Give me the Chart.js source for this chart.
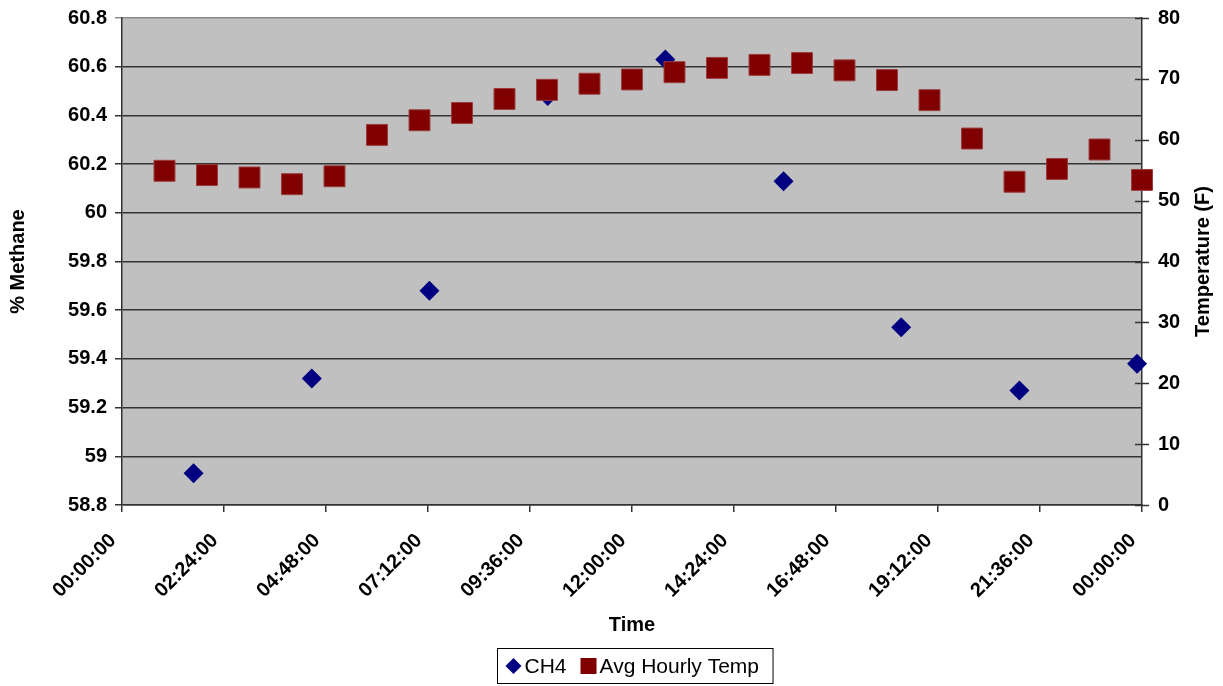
<!DOCTYPE html>
<html>
<head>
<meta charset="utf-8">
<script src="https://cdn.jsdelivr.net/npm/chart.js@4/dist/chart.umd.min.js"></script>
<style>
  html, body { margin: 0; padding: 0; background: #fff; }
  canvas { display: block; }
</style>
</head>
<body>
<canvas id="chart" width="1223" height="686"></canvas>
<script>
// methane readings (time of day, % CH4)
const ch4Times = ['01:41', '04:28', '07:14', '10:01', '12:47', '15:34', '18:20', '21:07', '23:53'];
const ch4Values = [58.93, 59.32, 59.68, 60.48, 60.63, 60.13, 59.53, 59.27, 59.38];

// hourly average temperature (F)
const tempTimes = ['01:00', '02:00', '03:00', '04:00', '05:00', '06:00', '07:00', '08:00',
  '09:00', '10:00', '11:00', '12:00', '13:00', '14:00', '15:00', '16:00',
  '17:00', '18:00', '19:00', '20:00', '21:00', '22:00', '23:00', '24:00'];
const tempValues = [54.9, 54.2, 53.8, 52.7, 54.0, 60.8, 63.2, 64.4, 66.7, 68.2, 69.2, 69.9,
  71.1, 71.8, 72.3, 72.6, 71.4, 69.8, 66.5, 60.2, 53.1, 55.2, 58.4, 53.4];

const xTickLabels = ['00:00:00', '02:24:00', '04:48:00', '07:12:00', '09:36:00', '12:00:00',
  '14:24:00', '16:48:00', '19:12:00', '21:36:00', '00:00:00'];

const FONT = "'Liberation Sans', Arial, sans-serif";
const CH4_COLOR = '#000080';
const TEMP_COLOR = '#800000';

function toHours(s) {
  const [h, m] = s.split(':').map(Number);
  return h + m / 60;
}

const xTickPos = xTickLabels.map((_, i) => i * 24 / (xTickLabels.length - 1));

// plot background, right-axis cross ticks, rotated right title and boxed legend
const decor = {
  id: 'decor',
  beforeDraw(chart) {
    const { ctx, chartArea: a } = chart;
    ctx.save();
    ctx.fillStyle = '#c0c0c0';
    ctx.fillRect(a.left, a.top, a.right - a.left, a.bottom - a.top);
    ctx.restore();
  },
  afterDraw(chart) {
    const { ctx, chartArea: a } = chart;
    const y1 = chart.scales.y1;
    ctx.save();
    ctx.strokeStyle = '#333';
    ctx.lineWidth = 1.5;
    y1.ticks.forEach(t => {
      const y = Math.round(y1.getPixelForValue(t.value)) + 0.5;
      ctx.beginPath();
      ctx.moveTo(a.right - 7, y);
      ctx.lineTo(a.right + 7, y);
      ctx.stroke();
    });

    // right axis title, reading bottom to top
    ctx.fillStyle = '#000';
    ctx.font = 'bold 20px ' + FONT;
    ctx.textAlign = 'center';
    ctx.textBaseline = 'middle';
    ctx.translate(1203, (a.top + a.bottom) / 2);
    ctx.rotate(-Math.PI / 2);
    ctx.fillText('Temperature (F)', 0, 0);
    ctx.restore();

    // legend
    ctx.save();
    ctx.font = '21px ' + FONT;
    const items = chart.data.datasets.map(d => ({ label: d.label, color: d.backgroundColor, style: d.pointStyle }));
    const mark = 16, gap = 3, between = 14, padL = 8, padR = 14;
    let w = padL + padR;
    items.forEach((it, i) => {
      it.w = ctx.measureText(it.label).width;
      w += mark + gap + it.w + (i ? between : 0);
    });
    const cx = (a.left + a.right) / 2 + 3;
    const left = Math.round(cx - w / 2) + 0.5;
    const top = 648.5, h = 35;
    ctx.strokeStyle = '#000';
    ctx.lineWidth = 1;
    ctx.strokeRect(left, top, w, h);
    const my = top + h / 2;
    let x = left + padL;
    ctx.textAlign = 'left';
    ctx.textBaseline = 'middle';
    items.forEach((it, i) => {
      if (i) x += between;
      ctx.fillStyle = it.color;
      if (it.style === 'rectRot') {
        ctx.beginPath();
        ctx.moveTo(x, my);
        ctx.lineTo(x + mark / 2, my - mark / 2);
        ctx.lineTo(x + mark, my);
        ctx.lineTo(x + mark / 2, my + mark / 2);
        ctx.closePath();
        ctx.fill();
      } else {
        ctx.fillRect(x, my - mark / 2, mark, mark);
      }
      x += mark + gap;
      ctx.fillStyle = '#000';
      ctx.fillText(it.label, x, my + 1);
      x += it.w;
    });
    ctx.restore();
  }
};

Chart.defaults.font.family = FONT;
Chart.defaults.color = '#000';

new Chart(document.getElementById('chart'), {
  type: 'scatter',
  data: {
    datasets: [
      {
        label: 'CH4',
        data: ch4Times.map((t, i) => ({ x: toHours(t), y: ch4Values[i] })),
        yAxisID: 'y',
        pointStyle: 'rectRot',
        pointRadius: 10,
        backgroundColor: CH4_COLOR,
        borderColor: CH4_COLOR,
        borderWidth: 0,
        clip: false,
        order: 1
      },
      {
        label: 'Avg Hourly Temp',
        data: tempTimes.map((t, i) => ({ x: toHours(t), y: tempValues[i] })),
        yAxisID: 'y1',
        pointStyle: 'rect',
        pointRadius: 14.8,
        backgroundColor: TEMP_COLOR,
        borderColor: '#9b3b3b',
        borderWidth: 1,
        clip: false,
        order: 0
      }
    ]
  },
  plugins: [decor],
  options: {
    responsive: false,
    animation: false,
    layout: { padding: { top: 18, left: 0, right: 0, bottom: 0 } },
    plugins: {
      legend: { display: false },
      tooltip: { enabled: false }
    },
    scales: {
      x: {
        type: 'linear',
        min: 0,
        max: 24,
        afterBuildTicks(scale) {
          scale.ticks = xTickPos.map(v => ({ value: v }));
        },
        afterFit(scale) {
          scale.height = 181;
          scale.paddingLeft = 0;
          scale.paddingRight = 0;
        },
        ticks: {
          autoSkip: false,
          minRotation: 45,
          maxRotation: 45,
          padding: 17,
          labelOffset: -9,
          font: { size: 20, weight: 'bold' },
          callback: (v, i) => xTickLabels[i]
        },
        grid: { drawOnChartArea: false, tickLength: 7, color: '#333', lineWidth: 1.5 },
        border: { color: '#333', width: 1.5 },
        title: {
          display: true,
          text: 'Time',
          font: { size: 20, weight: 'bold' },
          padding: { top: 0, bottom: 49 }
        }
      },
      y: {
        position: 'left',
        min: 58.8,
        max: 60.8,
        afterFit(scale) {
          scale.width = 122;
          scale.paddingTop = 0;
          scale.paddingBottom = 0;
        },
        ticks: {
          stepSize: 0.2,
          padding: 8,
          font: { size: 20, weight: 'bold' },
          callback: v => String(Number(v.toFixed(1)))
        },
        grid: {
          tickLength: 7,
          lineWidth: 1.5,
          color: c => (c.tick && c.tick.value > 60.79 ? '#8a8a8a' : '#333')
        },
        border: { color: '#333', width: 1.5 },
        title: {
          display: true,
          text: '% Methane',
          font: { size: 20, weight: 'bold' },
          padding: { top: 6, bottom: 0 }
        }
      },
      y1: {
        position: 'right',
        min: 0,
        max: 80,
        afterFit(scale) {
          scale.width = 81;
          scale.paddingTop = 0;
          scale.paddingBottom = 0;
        },
        ticks: {
          stepSize: 10,
          padding: 16,
          font: { size: 20, weight: 'bold' }
        },
        grid: { drawOnChartArea: false, drawTicks: false },
        border: { color: '#333', width: 1.5 }
      }
    }
  }
});
</script>
</body>
</html>
